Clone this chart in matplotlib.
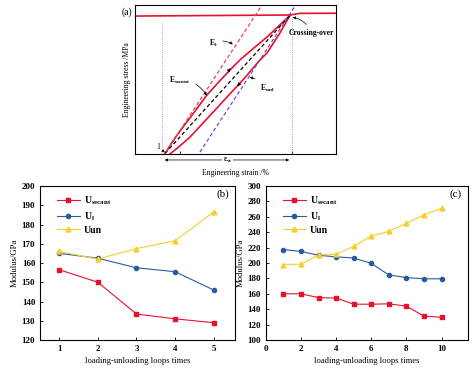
import matplotlib
matplotlib.use('Agg')
import matplotlib.pyplot as plt

plt.rcParams['font.family'] = 'Liberation Serif'
plt.rcParams['font.weight'] = 'bold'
plt.rcParams['mathtext.fontset'] = 'custom'
plt.rcParams['mathtext.rm'] = 'Liberation Serif:bold'
plt.rcParams['mathtext.it'] = 'Liberation Serif:bold'
plt.rcParams['mathtext.bf'] = 'Liberation Serif:bold'

# panel (a) schematic
flat_x = [0, 7.71, 8.2, 10]
flat_y = [9.26, 9.33, 9.44, 9.45]
load_x = [1.5, 1.9, 2.39, 3.0, 3.58, 4.2, 4.73, 5.22, 5.9, 6.57, 7.36, 7.71]
load_y = [0.05, 0.9, 1.81, 2.9, 3.96, 4.88, 5.64, 6.31, 7.1, 7.85, 8.86, 9.3]
unload_x = [7.71, 7.21, 6.57, 6.22, 5.37, 4.58, 4.08, 3.4, 2.74, 2.2, 1.74]
unload_y = [9.3, 8.12, 6.78, 6.31, 4.97, 3.83, 3.09, 2.1, 1.14, 0.5, 0.0]
secant_x = [1.5, 7.71]
secant_y = [0.05, 9.3]
el_x = [1.54, 6.32]
el_y = [0.13, 10.0]
eunl_x = [3.23, 7.96]
eunl_y = [0.13, 9.93]

# panel (b)
loops_b = [1, 2, 3, 4, 5]
usec_b = [156.5, 150, 133.5, 131, 129]
ul_b = [165, 162.5, 157.5, 155.5, 146]
uun_b = [166, 162, 167.5, 171.5, 186.5]

# panel (c)
loops_c = [1, 2, 3, 4, 5, 6, 7, 8, 9, 10]
usec_c = [160, 160, 155, 154.5, 146.5, 146.5, 147, 144, 131, 129.5]
ul_c = [217.5, 215, 210, 208, 206.5, 199.5, 184.5, 181, 179.5, 179.5]
uun_c = [198, 198.5, 210.5, 211.5, 221.5, 235, 241, 251.5, 262.5, 271]

red = '#e8112d'
blue = '#2b5aa3'
yellow = '#f5cf2a'

fig = plt.figure(figsize=(4.74, 3.72), dpi=100)

# ---- (a)
ax = fig.add_axes([0.2848, 0.586, 0.424, 0.4005])
ax.plot(flat_x, flat_y, color=red, lw=1.2)
ax.plot(load_x, load_y, color=red, lw=1.2)
ax.plot(unload_x, unload_y, color=red, lw=1.2)
ax.plot(secant_x, secant_y, color='black', lw=0.9, ls=(0, (3, 2)))
ax.plot(el_x, el_y, color='#f04050', lw=0.9, ls=(0, (3, 2)))
ax.plot(eunl_x, eunl_y, color='#8040d0', lw=0.9, ls=(0, (3, 2)))
ax.plot([1.34, 1.34], [0, 8.8], color='#888888', lw=0.6, ls=':')
ax.plot([7.81, 7.81], [0, 9.25], color='#888888', lw=0.6, ls=':')
ax.set_xlim(0, 10)
ax.set_ylim(0, 10)
ax.set_xticks([2.24, 7.81])
ax.set_xticklabels([])
ax.set_yticks([])
ax.tick_params(direction='in', length=2, width=0.6)
for s in ax.spines.values():
    s.set_linewidth(0.8)
ax.set_xlabel('Engineering strain /%', fontsize=5.5, labelpad=7)
ax.set_ylabel('Engineering stress /MPa', fontsize=5.5, labelpad=3)
ax.text(-0.04, 0.95, '(a)', transform=ax.transAxes, fontsize=7, fontweight='normal',
        ha='center', va='center')

fs = 5.5
ap = dict(arrowstyle='-|>', color='black', lw=0.5, mutation_scale=4)
ax.annotate('E$_{\\mathbf{l}}$', xy=(4.98, 7.25), xytext=(3.88, 7.45), fontsize=fs,
            ha='center', va='center',
            arrowprops=dict(ap, connectionstyle='arc3,rad=-0.3'))
ax.annotate('E$_{\\mathbf{secant}}$', xy=(3.63, 3.76), xytext=(2.24, 4.97), fontsize=fs,
            ha='center', va='center',
            arrowprops=dict(ap, connectionstyle='arc3,rad=-0.3'))
ax.annotate('E$_{\\mathbf{unl}}$', xy=(5.57, 5.17), xytext=(6.6, 4.43), fontsize=fs,
            ha='center', va='center',
            arrowprops=dict(ap, connectionstyle='arc3,rad=0.2'))
ax.annotate('Crossing-over', xy=(7.71, 9.2), xytext=(8.8, 8.1), fontsize=fs,
            ha='center', va='center',
            arrowprops=dict(ap, connectionstyle='arc3,rad=0.3'))
ax.annotate('1', xy=(1.48, 0.1), xytext=(1.17, 0.5), fontsize=fs, fontweight='normal',
            ha='center', va='center', arrowprops=ap)
ax.annotate('', xy=(4.85, 5.9), xytext=(4.6, 5.5), arrowprops=dict(ap, mutation_scale=5))
ax.annotate('', xy=(5.0, 4.4), xytext=(5.25, 4.8), arrowprops=dict(ap, mutation_scale=5))
ax.annotate('', xy=(1.34, -0.4), xytext=(7.81, -0.4), annotation_clip=False,
            arrowprops=dict(arrowstyle='<|-|>', color='black', lw=0.5, mutation_scale=4))
ax.text(4.6, -0.4, '\u03b5$_{\\mathbf{vt}}$', fontsize=fs, ha='center', va='center',
        bbox=dict(facecolor='white', edgecolor='none', pad=0.3))


def modulus_panel(rect, x, usec, ul, uun, xlim, ylim, yticks, xticks, tag):
    ax = fig.add_axes(rect)
    ax.plot(x, usec, color=red, marker='s', ms=3, lw=0.8, label='U$_{\\mathbf{secant}}$')
    ax.plot(x, ul, color=blue, marker='o', ms=3, lw=0.8, label='U$_{\\mathbf{l}}$')
    ax.plot(x, uun, color=yellow, marker='^', ms=3.5, lw=0.8, label='Uun')
    ax.set_xlim(xlim)
    ax.set_ylim(ylim)
    ax.set_yticks(yticks)
    ax.set_xticks(xticks)
    ax.tick_params(direction='in', length=2.5, width=0.6, labelsize=6.5)
    for s in ax.spines.values():
        s.set_linewidth(0.8)
    ax.set_xlabel('loading-unloading loops times', fontsize=6.2, labelpad=3)
    ax.set_ylabel('Modulus/GPa', fontsize=6.2, labelpad=2)
    ax.legend(loc='upper left', bbox_to_anchor=(0.04, 1.0), frameon=False, fontsize=7,
              handlelength=2.4, labelspacing=0.3, handletextpad=0.4)
    ax.text(0.97, 0.95, tag, transform=ax.transAxes, fontsize=8, fontweight='normal',
            ha='right', va='center')
    return ax


modulus_panel([0.0844, 0.086, 0.411, 0.414], loops_b, usec_b, ul_b, uun_b,
              (0.5, 5.55), (120, 200), range(120, 201, 10), loops_b, '(b)')
modulus_panel([0.561, 0.086, 0.426, 0.414], loops_c, usec_c, ul_c, uun_c,
              (0, 11.5), (100, 300), range(100, 301, 20), range(0, 11, 2), '(c)')

plt.savefig('out.png', dpi=100)
